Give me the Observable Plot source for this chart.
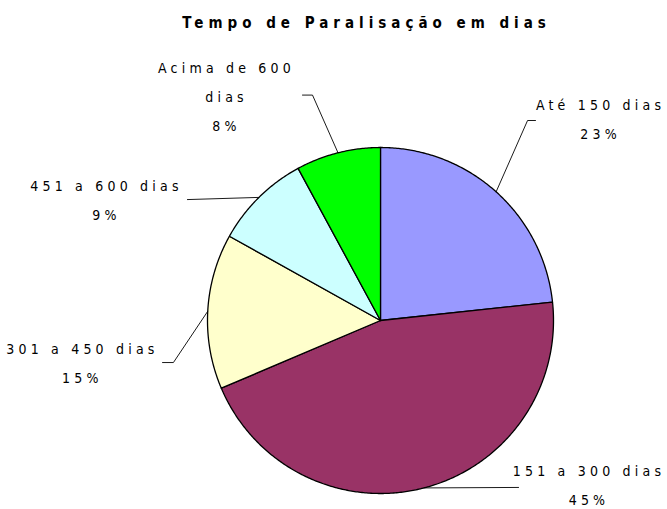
<!DOCTYPE html>
<html>
<head>
<meta charset="utf-8">
<script src="https://cdn.jsdelivr.net/npm/d3@7"></script>
<script src="https://cdn.jsdelivr.net/npm/@observablehq/plot@0.6"></script>
<style>
  html, body { margin: 0; padding: 0; background: #fff; }
  #title {
    width: 667px; height: 40px; box-sizing: border-box;
    padding-left: 66px; padding-top: 14px;
    text-align: center;
    font-family: "Liberation Sans Narrow", "DejaVu Sans Condensed", "Liberation Sans", sans-serif;
    font-stretch: condensed;
    font-weight: bold; font-size: 15px; letter-spacing: 5px; color: #000;
    line-height: 18px;
  }
</style>
</head>
<body>
<div id="title">Tempo de Paralisação em dias</div>
<div id="chart"></div>
<script>
// ---- data ----
const categories = ["Até 150 dias", "151 a 300 dias", "301 a 450 dias", "451 a 600 dias", "Acima de 600 dias"];
const labelNames = ["Até 150 dias", "151 a 300 dias", "301 a 450 dias", "451 a 600 dias", "Acima de 600\ndias"];
const percents = [23.3, 45.3, 14.5, 9.0, 7.9];
const colors = ["#9999FF", "#993366", "#FFFFCC", "#CCFFFF", "#00FF00"];

// ---- label layout (unit-circle coordinates, radius = 1) ----
const labelCenter = [[1.272, 1.188], [1.205, -0.931], [-1.723, -0.223], [-1.584, 0.717], [-0.890, 1.315]];
const leaderBend  = [[[0.850, 1.156], [0.896, 1.156]],
                     [[0.798, -0.965]],
                     [[-1.197, -0.243], [-1.260, -0.243]],
                     [[-1.116, 0.699]],
                     [[-0.393, 1.303], [-0.451, 1.303]]];

// ---- build geometry from the values ----
const total = d3.sum(percents);
let cum = 0;
const slices = percents.map((p, i) => {
  const a0 = cum / total * 2 * Math.PI;
  cum += p;
  const a1 = cum / total * 2 * Math.PI;
  const pts = [{x: 0, y: 0}];
  const n = Math.max(2, Math.ceil((a1 - a0) / (Math.PI / 360)));
  for (let k = 0; k <= n; k++) {
    const a = a0 + (a1 - a0) * k / n;
    pts.push({x: Math.sin(a), y: Math.cos(a)});
  }
  pts.push({x: 0, y: 0});
  return {i, pts, mid: (a0 + a1) / 2};
});

const leaders = [];
slices.forEach(s => {
  leaders.push({k: s.i, x: Math.sin(s.mid), y: Math.cos(s.mid)});
  leaderBend[s.i].forEach(([x, y]) => leaders.push({k: s.i, x, y}));
});

const labels = categories.map((c, i) => ({
  text: labelNames[i] + "\n" + Math.round(+(percents[i] / total * 100).toFixed(6)) + "%",
  x: labelCenter[i][0], y: labelCenter[i][1]
}));

const R = 173, cx = 380, cy = 280;
const font = '"Liberation Sans Narrow", "DejaVu Sans Condensed", "Liberation Sans", sans-serif';

const chart = Plot.plot({
  width: 667,
  height: 469,
  margin: 0,
  x: {domain: [-1, 1], range: [cx - R, cx + R], axis: null},
  y: {domain: [-1, 1], range: [cy + R, cy - R], axis: null},
  style: {fontFamily: font, background: "#fff"},
  marks: [
    ...slices.map(s => Plot.line(s.pts, {x: "x", y: "y", fill: colors[s.i], stroke: "#000", strokeWidth: 1.3, strokeLinejoin: "round", curve: "linear"})),
    Plot.line(leaders, {x: "x", y: "y", z: "k", stroke: "#000", strokeWidth: 0.9}),
    Plot.text(labels, {x: "x", y: "y", text: "text", fontSize: 14, lineHeight: 2.05, textAnchor: "middle", fill: "#000"})
  ]
});
chart.querySelectorAll("text").forEach(t => t.setAttribute("letter-spacing", "4.2px"));
chart.setAttribute("font-stretch", "condensed");
document.getElementById("chart").appendChild(chart);
</script>
</body>
</html>
